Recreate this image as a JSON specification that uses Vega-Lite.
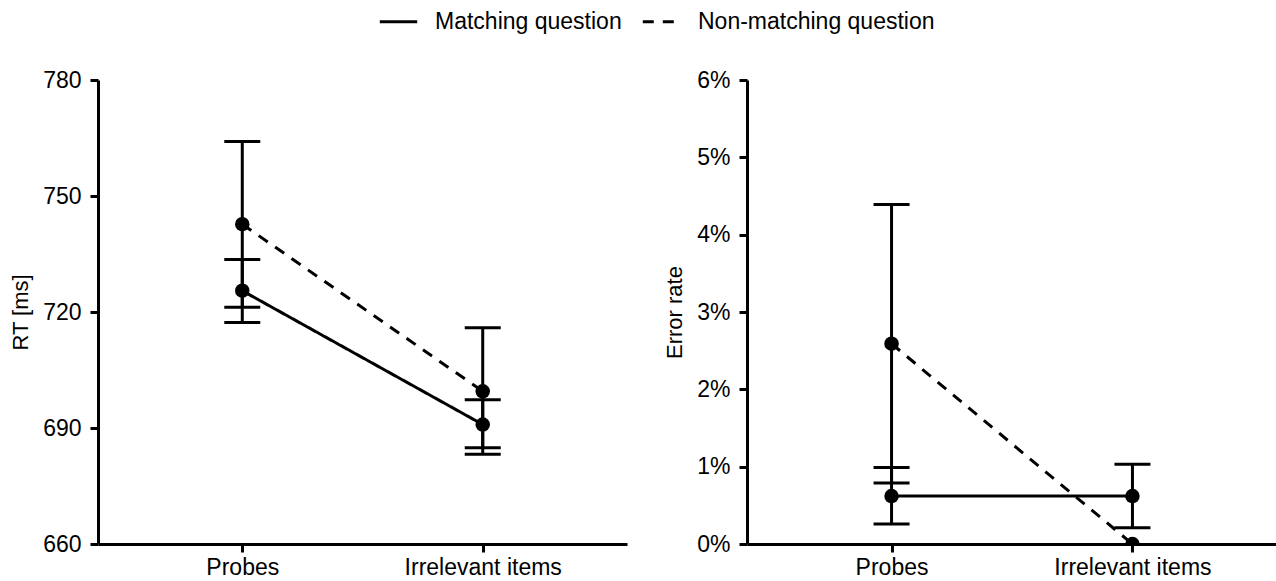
{
  "$schema": "https://vega.github.io/schema/vega-lite/v6.json",
  "padding": {"left": 9, "top": 1, "right": 0, "bottom": 2},
  "background": "white",
  "bounds": "flush",
  "spacing": 120,
  "datasets": {
    "rt": [
      {"item": "Probes", "cond": "Matching question", "mean": 725.5, "lo": 717.3, "hi": 733.6},
      {"item": "Probes", "cond": "Non-matching question", "mean": 742.7, "lo": 721.2, "hi": 764.1},
      {"item": "Irrelevant items", "cond": "Matching question", "mean": 690.9, "lo": 684.9, "hi": 697.3},
      {"item": "Irrelevant items", "cond": "Non-matching question", "mean": 699.5, "lo": 683.2, "hi": 715.9}
    ],
    "err": [
      {"item": "Probes", "cond": "Matching question", "mean": 0.0062, "lo": 0.0026, "hi": 0.0099},
      {"item": "Probes", "cond": "Non-matching question", "mean": 0.0259, "lo": 0.0079, "hi": 0.0439},
      {"item": "Irrelevant items", "cond": "Matching question", "mean": 0.0062, "lo": 0.0021, "hi": 0.0103},
      {"item": "Irrelevant items", "cond": "Non-matching question", "mean": 0.0, "lo": null, "hi": null}
    ]
  },
  "hconcat": [
    {
      "width": 529,
      "height": 464,
      "data": {"name": "rt"},
      "encoding": {
        "x": {"field": "item", "type": "nominal", "sort": ["Probes", "Irrelevant items"], "scale": {"type": "point", "padding": 0.6}, "axis": {"title": null, "labelAngle": 0}}
      },
      "layer": [
        {"mark": {"type": "rule", "color": "black", "strokeWidth": 3, "opacity": 1}, "encoding": {"y": {"field": "lo", "type": "quantitative"}, "y2": {"field": "hi"}}},
        {"mark": {"type": "tick", "color": "black", "size": 36, "thickness": 3, "opacity": 1}, "encoding": {"y": {"field": "lo", "type": "quantitative"}}},
        {"mark": {"type": "tick", "color": "black", "size": 36, "thickness": 3, "opacity": 1}, "encoding": {"y": {"field": "hi", "type": "quantitative"}}},
        {"mark": {"type": "line", "color": "black", "strokeWidth": 3}, "encoding": {
          "y": {"field": "mean", "type": "quantitative"},
          "strokeDash": {"field": "cond", "type": "nominal", "scale": {"domain": ["Matching question", "Non-matching question"], "range": [[1, 0], [11, 9]]}, "legend": {"orient": "none", "legendX": 280, "legendY": -79, "direction": "horizontal", "title": null}}
        }},
        {"mark": {"type": "point", "filled": true, "color": "black", "opacity": 1, "size": 210}, "encoding": {
          "y": {"field": "mean", "type": "quantitative", "title": "RT [ms]", "scale": {"domain": [660, 780], "nice": false, "zero": false}, "axis": {"values": [660, 690, 720, 750, 780]}}
        }}
      ]
    },
    {
      "width": 530,
      "height": 464,
      "data": {"name": "err"},
      "encoding": {
        "x": {"field": "item", "type": "nominal", "sort": ["Probes", "Irrelevant items"], "scale": {"type": "point", "padding": 0.6}, "axis": {"title": null, "labelAngle": 0}}
      },
      "layer": [
        {"mark": {"type": "rule", "color": "black", "strokeWidth": 3, "opacity": 1}, "encoding": {"y": {"field": "lo", "type": "quantitative"}, "y2": {"field": "hi"}}},
        {"mark": {"type": "tick", "color": "black", "size": 36, "thickness": 3, "opacity": 1}, "encoding": {"y": {"field": "lo", "type": "quantitative"}}},
        {"mark": {"type": "tick", "color": "black", "size": 36, "thickness": 3, "opacity": 1}, "encoding": {"y": {"field": "hi", "type": "quantitative"}}},
        {"mark": {"type": "line", "color": "black", "strokeWidth": 3}, "encoding": {
          "y": {"field": "mean", "type": "quantitative"},
          "strokeDash": {"field": "cond", "type": "nominal", "scale": {"domain": ["Matching question", "Non-matching question"], "range": [[1, 0], [11, 9]]}}
        }},
        {"mark": {"type": "point", "filled": true, "color": "black", "opacity": 1, "size": 210, "clip": true}, "encoding": {
          "y": {"field": "mean", "type": "quantitative", "title": "Error rate", "scale": {"domain": [0, 0.06], "nice": false}, "axis": {"values": [0, 0.01, 0.02, 0.03, 0.04, 0.05, 0.06], "format": ".0%"}}
        }}
      ]
    }
  ],
  "config": {
    "font": "Liberation Sans",
    "view": {"stroke": null},
    "axis": {
      "grid": false,
      "domainColor": "black",
      "domainWidth": 3,
      "tickColor": "black",
      "tickWidth": 3,
      "tickSize": 8,
      "labelColor": "black",
      "labelFont": "Liberation Sans",
      "labelFontSize": 23,
      "labelPadding": 9,
      "titleColor": "black",
      "titleFont": "Liberation Sans",
      "titleFontSize": 22,
      "titleFontWeight": "normal",
      "titlePadding": 10
    },
    "axisX": {"labelPadding": 4},
    "legend": {
      "symbolType": "stroke",
      "symbolSize": 1400,
      "symbolStrokeWidth": 3,
      "symbolStrokeColor": "black",
      "labelFont": "Liberation Sans",
      "labelFontSize": 23,
      "labelColor": "black",
      "labelOffset": 16,
      "columnPadding": 14,
      "labelLimit": 400
    }
  }
}
